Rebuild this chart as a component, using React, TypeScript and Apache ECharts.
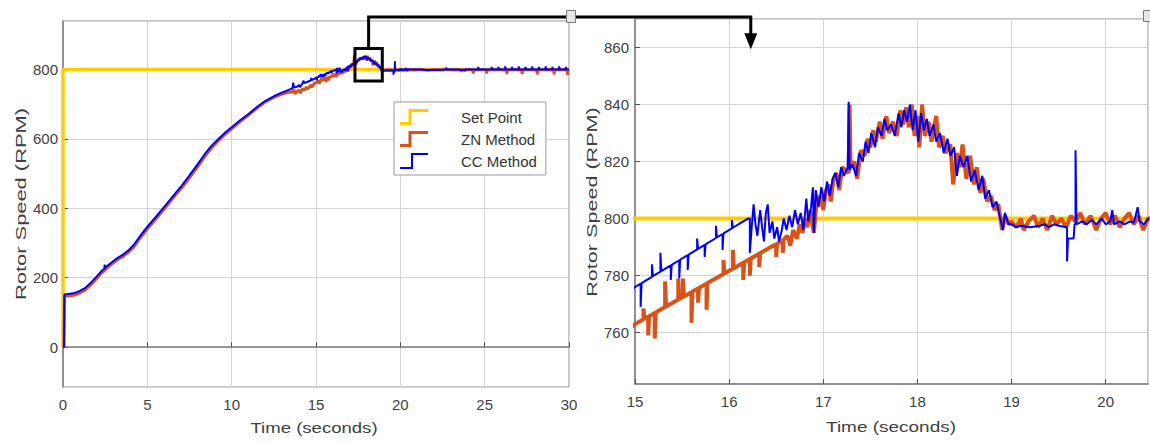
import React, { useEffect, useRef } from "react";
import * as echarts from "echarts";

// ---------- data ----------
const seriesNames = ["Set Point", "ZN Method", "CC Method"];
const colors = ["#FFCC00", "#D95319", "#0000FF"];

const setPointData: [number, number][] = [[0, 0], [0, 800], [30, 800]];

const znRise: [number, number][] = [
  [0, 0], [0.06, 0], [0.09, 146], [0.3, 147], [0.7, 150], [1.0, 156], [1.3, 164], [1.6, 177], [2.0, 198],
  [2.3, 214], [2.8, 236], [3.2, 251], [3.6, 263], [3.9, 274], [4.2, 289], [4.6, 316], [5.0, 340], [5.5, 369],
  [6.0, 398], [6.5, 428], [7.0, 457], [7.5, 488], [8.0, 521], [8.4, 549], [8.8, 574], [9.2, 594], [9.6, 613],
  [10.0, 629], [10.5, 650], [11.0, 669], [11.5, 689], [12.0, 707], [12.5, 720], [12.9, 728], [13.3, 734],
  [13.6, 736], [13.7, 742], [13.75, 730], [13.9, 738], [14.0, 741], [14.05, 732], [14.2, 745], [14.3, 740],
  [14.45, 750], [14.5, 743], [14.7, 756], [14.75, 749], [14.9, 760], [15.0, 763],
];

const znZoom: [number, number][] = [
  [15.09, 764.7], [15.09, 768.5], [15.1, 764.9], [15.14, 765.6], [15.14, 759], [15.15, 765.8], [15.21, 766.9],
  [15.21, 758], [15.22, 767.1], [15.32, 769], [15.32, 778], [15.33, 769.2], [15.46, 771.6], [15.46, 779],
  [15.47, 771.8], [15.51, 772.5], [15.51, 779], [15.52, 772.7], [15.6, 774.2], [15.6, 763.5], [15.61, 774.4],
  [15.67, 775.5], [15.67, 770.5], [15.68, 775.7], [15.76, 777.2], [15.76, 768], [15.77, 777.4], [15.94, 780.6],
  [15.94, 785.5], [15.95, 780.8], [16.04, 782.4], [16.04, 789], [16.05, 782.6], [16.15, 784.5], [16.15, 778.5],
  [16.16, 784.7], [16.22, 785.8], [16.22, 780], [16.23, 786], [16.32, 787.7], [16.32, 783], [16.33, 787.9],
  [16.44, 790], [16.5, 791], [16.5, 786.5], [16.51, 791.2], [16.57, 792.4], [16.57, 788], [16.58, 792.6],
  [16.62, 794], [16.65, 790.5], [16.68, 796], [16.72, 793], [16.75, 798], [16.78, 795], [16.8, 800],
  [16.83, 797], [16.86, 803], [16.9, 795], [16.93, 806], [16.97, 808], [17.0, 803], [17.03, 810], [17.06, 812],
  [17.08, 806], [17.11, 814], [17.14, 816], [17.17, 810], [17.2, 818], [17.24, 817], [17.27, 816], [17.28, 840],
  [17.29, 818], [17.33, 820], [17.36, 814], [17.4, 824], [17.44, 822], [17.47, 828], [17.5, 825], [17.53, 831],
  [17.56, 827], [17.6, 834], [17.63, 828], [17.67, 836], [17.7, 830], [17.74, 834], [17.78, 829], [17.82, 838],
  [17.85, 833], [17.88, 839], [17.91, 832], [17.94, 840], [17.97, 829], [18.0, 836], [18.02, 825], [18.05, 840],
  [18.08, 829], [18.12, 834], [18.15, 827], [18.2, 836], [18.23, 825], [18.27, 829], [18.3, 823], [18.35, 826],
  [18.38, 812], [18.42, 823], [18.45, 818], [18.48, 826], [18.52, 814], [18.56, 822], [18.6, 812], [18.63, 818],
  [18.67, 809], [18.7, 814], [18.74, 806], [18.78, 808], [18.82, 803], [18.86, 805], [18.9, 796], [18.93, 801],
  [18.97, 798], [19.0, 799],
];

const znSettle: [number, number][] = [
  [19.05, 797], [19.1, 800], [19.13, 796], [19.18, 799], [19.24, 801], [19.28, 797], [19.33, 800], [19.38, 796],
  [19.43, 801], [19.48, 798], [19.53, 800], [19.58, 797], [19.63, 801], [19.68, 799], [19.73, 802], [19.78, 798],
  [19.84, 801], [19.9, 796], [19.95, 800], [20.0, 802], [20.05, 798], [20.1, 801], [20.15, 797], [20.2, 800],
  [20.25, 802], [20.3, 798], [20.35, 801], [20.4, 796], [20.45, 800], [20.8, 799], [21.2, 800], [21.6, 798],
  [22.0, 800], [22.4, 799], [22.8, 800], [23.2, 799], [23.6, 800], [23.62, 793], [23.64, 799], [24.0, 800],
  [24.3, 799], [24.32, 788], [24.34, 799], [24.8, 800], [25.1, 799], [25.12, 788], [25.14, 799], [25.6, 800],
  [26.3, 799], [26.32, 787], [26.34, 799], [26.8, 800], [27.2, 799], [27.22, 787], [27.24, 799], [27.7, 800],
  [28.1, 799], [28.12, 786], [28.14, 799], [28.6, 800], [29.1, 799], [29.12, 786], [29.14, 799], [29.5, 800],
  [29.9, 799], [29.92, 785], [29.94, 799], [30, 799],
];

const ccRise: [number, number][] = [
  [0, 0], [0.06, 0], [0.08, 152], [0.3, 153], [0.7, 156], [1.0, 162], [1.3, 170], [1.6, 183], [2.0, 204],
  [2.3, 220], [2.45, 226], [2.47, 238], [2.5, 229], [2.8, 241], [3.2, 256], [3.6, 268], [3.9, 280], [4.2, 295],
  [4.6, 322], [5.0, 347], [5.5, 375], [6.0, 404], [6.5, 434], [7.0, 463], [7.5, 495], [8.0, 528], [8.4, 556],
  [8.8, 580], [9.2, 599], [9.6, 618], [10.0, 634], [10.5, 654], [11.0, 672], [11.5, 692], [12.0, 710],
  [12.5, 723], [12.9, 732], [13.3, 740], [13.6, 746], [13.65, 762], [13.7, 748], [13.9, 751], [14.0, 756],
  [14.05, 749], [14.2, 760], [14.25, 768], [14.3, 761], [14.5, 765], [14.7, 769], [14.72, 776], [14.75, 770],
  [14.9, 773], [15.0, 776],
];

const ccZoom: [number, number][] = [
  [15.06, 777.2], [15.06, 769], [15.07, 777.4], [15.18, 779.6], [15.18, 784], [15.19, 779.8], [15.27, 781.4],
  [15.27, 788], [15.28, 781.6], [15.38, 783.6], [15.38, 778.5], [15.39, 783.8], [15.47, 785.4], [15.47, 779],
  [15.48, 785.6], [15.56, 787.2], [15.56, 782], [15.57, 787.4], [15.66, 789.2], [15.66, 793], [15.67, 789.4],
  [15.74, 790.8], [15.74, 786.5], [15.75, 791], [15.86, 793.2], [15.86, 797.5], [15.87, 793.4], [15.93, 794.6],
  [15.93, 789], [15.94, 794.8], [16.03, 796.6], [16.03, 799.5], [16.04, 796.8], [16.12, 798.4], [16.2, 800],
  [16.22, 800], [16.22, 788], [16.24, 797], [16.26, 805], [16.28, 798], [16.3, 794], [16.33, 803], [16.35, 797],
  [16.37, 792], [16.39, 802], [16.41, 805], [16.43, 795], [16.46, 799], [16.48, 793], [16.51, 797], [16.53, 792],
  [16.56, 796], [16.58, 800], [16.61, 796], [16.64, 801], [16.67, 797], [16.7, 803], [16.73, 798], [16.76, 802],
  [16.79, 796], [16.82, 807], [16.84, 799], [16.87, 804], [16.89, 811], [16.9, 795], [16.92, 810], [16.95, 804],
  [16.98, 811], [17.01, 806], [17.04, 813], [17.07, 808], [17.1, 814], [17.13, 816], [17.16, 811], [17.19, 818],
  [17.22, 815], [17.26, 818], [17.27, 841], [17.28, 817], [17.31, 819], [17.35, 815], [17.38, 823], [17.42, 820],
  [17.45, 827], [17.48, 823], [17.51, 830], [17.55, 825], [17.58, 832], [17.62, 829], [17.65, 835], [17.68, 831],
  [17.72, 833], [17.76, 829], [17.8, 837], [17.83, 832], [17.86, 838], [17.89, 834], [17.92, 840], [17.95, 831],
  [17.98, 838], [18.01, 827], [18.04, 837], [18.07, 831], [18.1, 835], [18.13, 829], [18.17, 833], [18.2, 827],
  [18.24, 830], [18.28, 823], [18.32, 828], [18.35, 822], [18.39, 825], [18.42, 815], [18.45, 822], [18.49, 818],
  [18.53, 822], [18.57, 813], [18.61, 817], [18.65, 810], [18.69, 815], [18.72, 807], [18.76, 810], [18.8, 804],
  [18.84, 806], [18.88, 800], [18.91, 796], [18.93, 802], [18.97, 798], [19.0, 798],
];

const ccSettle: [number, number][] = [
  [19.05, 797], [19.1, 797.5], [19.2, 797], [19.3, 797.5], [19.35, 798], [19.4, 797], [19.45, 798], [19.5, 797.5],
  [19.59, 797], [19.59, 785], [19.6, 793], [19.66, 793], [19.67, 798], [19.68, 798], [19.68, 824], [19.69, 798],
  [19.75, 799], [19.8, 798], [19.85, 799.5], [19.9, 798], [19.96, 800], [20.0, 798], [20.05, 799], [20.07, 803],
  [20.09, 798], [20.15, 799], [20.2, 798], [20.26, 799], [20.3, 798.5], [20.34, 804], [20.36, 799], [20.41, 798],
  [20.45, 800], [20.8, 800], [21.2, 800], [21.6, 799], [22.0, 799], [22.7, 800], [22.72, 806], [22.74, 800],
  [23.3, 800], [23.8, 799], [23.82, 795], [23.84, 800], [24.6, 800], [24.62, 808], [24.64, 800], [25.4, 800],
  [25.42, 808], [25.44, 800], [25.8, 800], [25.82, 808], [25.84, 800], [26.2, 800], [26.22, 809], [26.24, 800],
  [26.6, 800], [26.62, 808], [26.64, 800], [27.0, 800], [27.02, 809], [27.04, 800], [27.4, 800], [27.42, 808],
  [27.44, 800], [27.8, 800], [27.82, 809], [27.84, 800], [28.2, 800], [28.22, 808], [28.24, 800], [28.6, 800],
  [28.62, 809], [28.64, 800], [29.0, 800], [29.02, 808], [29.04, 800], [29.4, 800], [29.42, 809], [29.44, 800],
  [29.8, 800], [29.82, 808], [29.84, 800], [30, 800],
];

// zoom-window annotation (data coordinates)
const zoomBoxT: [number, number] = [17.31, 18.93];
const zoomBoxV: [number, number] = [767, 861];
const arrowTarget: [number, number] = [16.23, 859.4];

const xTitle = "Time (seconds)";
const yTitle = "Rotor Speed (RPM)";

const znData = [...znRise, ...znZoom, ...znSettle];
const ccData = [...ccRise, ...ccZoom, ...ccSettle];

const FONT = "'Liberation Sans', Arial, sans-serif";
const TEXT_COLOR = "#404040";

function makeAxisCommon() {
  return {
    type: "value" as const,
    axisLine: { show: true, lineStyle: { color: "#7d7d7d", width: 1.5 } },
    axisTick: { show: true, inside: true, length: 5, lineStyle: { color: "#555", width: 1 } },
    splitLine: { show: true, lineStyle: { color: "#d4d4d4", width: 1 } },
    axisLabel: { color: TEXT_COLOR, fontSize: 15, fontFamily: FONT, showMinLabel: false, showMaxLabel: false },
  };
}

export default function App() {
  const ref = useRef<HTMLDivElement>(null);
  useEffect(() => {
    if (!ref.current) return;
    const chart = echarts.init(ref.current, undefined, { renderer: "svg" });
    const base = makeAxisCommon();
    const lineSeries = (name: string, idx: number, data: [number, number][], grid: number, width: number) => ({
      type: "line" as const,
      name,
      xAxisIndex: grid,
      yAxisIndex: grid,
      data,
      showSymbol: false,
      symbol: "none",
      clip: true,
      lineStyle: { color: colors[idx], width },
      itemStyle: { color: colors[idx] },
      z: 2 + idx,
    });
    const option: any = {
      animation: false,
      backgroundColor: "#ffffff",
      grid: [
        { left: 63, top: 21, width: 506, height: 366, show: true, borderColor: "#8a8a8a", borderWidth: 1 },
        { left: 635, top: 19, width: 513, height: 365, show: true, borderColor: "#8a8a8a", borderWidth: 1 },
      ],
      xAxis: [
        { ...base, gridIndex: 0, min: 0, max: 30, interval: 5,
          axisLabel: { ...base.axisLabel, margin: 10, showMinLabel: true, showMaxLabel: true } },
        { ...base, gridIndex: 1, min: 15, max: 20.45, interval: 1,
          axisLabel: { ...base.axisLabel, margin: 10, showMinLabel: true, showMaxLabel: false } },
      ],
      yAxis: [
        { ...base, gridIndex: 0, min: -115, max: 940, splitNumber: 5,
          axisLabel: { ...base.axisLabel, margin: 5 } },
        { ...base, gridIndex: 1, min: 742, max: 870, splitNumber: 6,
          axisLabel: { ...base.axisLabel, margin: 6 } },
      ],
      legend: {
        show: true,
        orient: "vertical",
        left: 394,
        top: 102,
        itemWidth: 28,
        itemHeight: 16,
        itemGap: 6,
        padding: [7, 9, 6, 6],
        borderColor: "#9a9a9a",
        borderWidth: 1,
        backgroundColor: "#ffffff",
        symbolKeepAspect: false,
        selectedMode: false,
        itemStyle: { borderWidth: 0 },
        textStyle: { fontSize: 15, color: "#333", fontFamily: FONT, padding: [0, 0, 0, 28] },
        data: [
          { name: seriesNames[0], icon: "path://M0,13 L8.5,13 L8.5,0 L28,0 L28,3 L11.5,3 L11.5,16 L0,16 Z" },
          { name: seriesNames[1], icon: "path://M0,13 L8.5,13 L8.5,0 L28,0 L28,3 L11.5,3 L11.5,16 L0,16 Z" },
          { name: seriesNames[2], icon: "path://M0,14 L11,14 L11,0 L28,0 L28,2 L13,2 L13,16 L0,16 Z" },
        ],
      },
      series: [
        lineSeries(seriesNames[0], 0, setPointData, 0, 3.5),
        lineSeries(seriesNames[1], 1, znData, 0, 3),
        lineSeries(seriesNames[2], 2, ccData, 0, 2),
        lineSeries(seriesNames[0], 0, setPointData, 1, 4),
        lineSeries(seriesNames[1], 1, znData, 1, 4),
        lineSeries(seriesNames[2], 2, ccData, 1, 2),
      ],
    };
    chart.setOption(option);

    const px = (g: number, pt: [number, number]) => chart.convertToPixel({ gridIndex: g } as any, pt) as number[];
    const a = px(0, [zoomBoxT[0], zoomBoxV[1]]);
    const b = px(0, [zoomBoxT[1], zoomBoxV[0]]);
    const q = px(1, arrowTarget);
    const cx = (a[0] + b[0]) / 2;
    const connectorY = 17;
    const titleStyle = (text: string) => ({ text, font: `14.5px ${FONT}`, fill: TEXT_COLOR, align: "center", verticalAlign: "middle" });

    chart.setOption({
      graphic: [
        { type: "rect", shape: { x: a[0], y: a[1], width: b[0] - a[0], height: b[1] - a[1] },
          style: { fill: "none", stroke: "#000", lineWidth: 3 }, z: 20 },
        { type: "polyline", shape: { points: [[cx, a[1]], [cx, connectorY], [q[0], connectorY], [q[0], q[1] - 14]] },
          style: { fill: "none", stroke: "#000", lineWidth: 3 }, z: 20 },
        { type: "polygon", shape: { points: [[q[0] - 6.5, q[1] - 16], [q[0] + 6.5, q[1] - 16], [q[0], q[1]]] },
          style: { fill: "#000" }, z: 20 },
        { type: "rect", shape: { x: 566.5, y: 10.5, width: 9, height: 12 }, style: { fill: "#e6e6e6", stroke: "#7a7a7a", lineWidth: 1 }, z: 21 },
        { type: "rect", shape: { x: 1143.5, y: 10.5, width: 7, height: 11 }, style: { fill: "#e6e6e6", stroke: "#7a7a7a", lineWidth: 1 }, z: 21 },
        { type: "text", x: 314, y: 428, scaleX: 1.28, style: titleStyle(xTitle), z: 20 },
        { type: "text", x: 891, y: 427, scaleX: 1.31, style: titleStyle(xTitle), z: 20 },
        { type: "text", x: 20.5, y: 204, rotation: Math.PI / 2, scaleX: 1.51, style: titleStyle(yTitle), z: 20 },
        { type: "text", x: 592, y: 202, rotation: Math.PI / 2, scaleX: 1.49, style: titleStyle(yTitle), z: 20 },
      ],
    });

    return () => chart.dispose();
  }, []);
  return <div ref={ref} style={{ position: "absolute", left: 0, top: 0, width: 1150, height: 443 }} />;
}
